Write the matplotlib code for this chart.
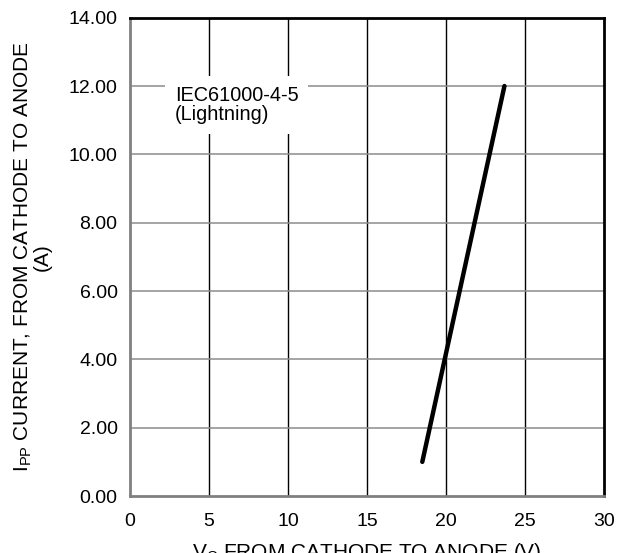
import matplotlib
matplotlib.use("Agg")
import matplotlib.pyplot as plt

plt.rcParams['font.family'] = ['Liberation Sans', 'DejaVu Sans']

# Data
v_clamp = [18.5, 23.7]
i_pp = [1.0, 12.0]
x_ticks = [0, 5, 10, 15, 20, 25, 30]
y_ticks = [0, 2, 4, 6, 8, 10, 12, 14]
y_tick_labels = ["0.00", "2.00", "4.00", "6.00", "8.00", "10.00", "12.00", "14.00"]

fig = plt.figure(figsize=(6.18, 5.53), dpi=100)
ax = fig.add_axes([0.2104, 0.103, 0.7669, 0.865])

ax.set_xlim(0, 30)
ax.set_ylim(0, 14)
ax.set_xticks(x_ticks)
ax.set_yticks(y_ticks)
ax.set_yticklabels(y_tick_labels)
ax.tick_params(axis='both', length=0, labelsize=14)
ax.tick_params(axis='y', pad=9)
ax.tick_params(axis='x', pad=12)

for x in x_ticks[1:-1]:
    ax.axvline(x, color='black', lw=1.0, zorder=1)
for y in y_ticks[1:-1]:
    ax.axhline(y, color='#8c8c8c', lw=1.1, zorder=1)

ax.plot(v_clamp, i_pp, color='black', lw=3.2, solid_capstyle='round', zorder=3)

ax.text(2.85, 12.0, "IEC61000-4-5\n(Lightning)", fontsize=14.3, va='top', ha='left',
        linespacing=1.0, zorder=4,
        bbox=dict(facecolor='white', edgecolor='none', pad=7))

for side in ['top', 'right']:
    ax.spines[side].set_color('black')
    ax.spines[side].set_linewidth(2)
for side in ['left', 'bottom']:
    ax.spines[side].set_color('#808080')
    ax.spines[side].set_linewidth(2)

ax.set_xlabel(r"V$_{\mathregular{C}}$ FROM CATHODE TO ANODE (V)", fontsize=15, labelpad=8)
ax.set_ylabel(r"I$_{\mathregular{PP}}$ CURRENT, FROM CATHODE TO ANODE" + "\n(A)",
              fontsize=15, labelpad=12, linespacing=0.95)

fig.savefig("out.png", dpi=100)
